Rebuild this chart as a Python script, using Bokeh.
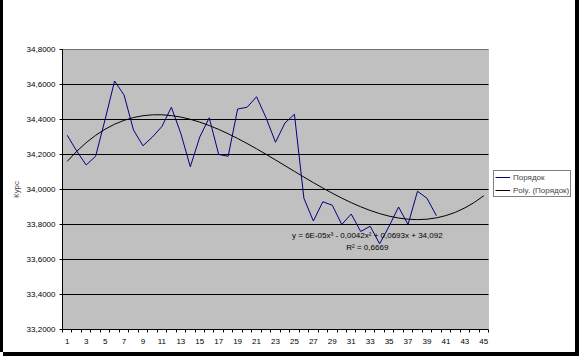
import numpy as np
from bokeh.plotting import figure
from bokeh.models import (FixedTicker, Legend, LegendItem, Label, ColumnDataSource,
                          Range1d, BoxAnnotation)
from bokeh.embed import file_html
from bokeh.resources import INLINE

# ---- data ----
periods = list(range(1, 41))
rate = [34.31, 34.22, 34.14, 34.19, 34.40, 34.62, 34.54, 34.34, 34.25, 34.30,
        34.36, 34.47, 34.32, 34.13, 34.30, 34.41, 34.20, 34.19, 34.46, 34.47,
        34.53, 34.41, 34.27, 34.38, 34.43, 33.95, 33.82, 33.93, 33.91, 33.80,
        33.86, 33.76, 33.79, 33.69, 33.79, 33.90, 33.80, 33.99, 33.95, 33.85]
trend_periods = list(range(1, 46))
y_ticks = [33.2, 33.4, 33.6, 33.8, 34.0, 34.2, 34.4, 34.6, 34.8]
y_tick_labels = ["33,2000", "33,4000", "33,6000", "33,8000", "34,0000",
                 "34,2000", "34,4000", "34,6000", "34,8000"]
x_ticks = list(range(1, 46, 2))
x_tick_labels = [str(t) for t in x_ticks]
series_name = "Порядок"
trend_name = "Poly. (Порядок)"
equation_text = "y = 6E-05x³ - 0,0042x² + 0,0693x + 34,092"
r2_text = "R² = 0,6669"
y_title = "Курс"

# polynomial (order 3) trendline fitted to the series, as the spreadsheet does
coef = np.polyfit(periods, rate, 3)
trend = [float(v) for v in np.polyval(coef, trend_periods)]

FONT = "Liberation Sans"

# plot area spans categories 0.5..45.5; frame extends right to host the legend
X0, X1 = 0.5, 45.5
Y0, Y1 = 33.2, 34.8
AREA_W = 426.0
CANVAS_W, CANVAS_H = 572, 352
LEFT, TOP, BOTTOM = 59, 49, 23
frame_w = CANVAS_W - LEFT
x_end = X0 + frame_w * (X1 - X0) / AREA_W

p = figure(width=CANVAS_W, height=CANVAS_H, output_backend="svg", toolbar_location=None,
           x_range=Range1d(X0, x_end), y_range=Range1d(Y0, Y1),
           min_border_left=LEFT, min_border_right=0, min_border_top=TOP,
           min_border_bottom=BOTTOM)
p.styles = {"margin-left": "3px",
            "box-shadow": "-3px 0 0 0 black, 4px 0 0 0 black, 0 4px 0 0 black, 4px 4px 0 0 black"}
p.background_fill_color = "white"
p.border_fill_color = "white"
p.outline_line_color = None

# grey plot area
p.add_layout(BoxAnnotation(left=X0, right=X1, bottom=Y0, top=Y1,
                           fill_color="#C0C0C0", fill_alpha=1,
                           line_color="#808080", line_width=1, level="underlay"))

# horizontal gridlines from the tick values
p.segment(x0=[X0] * len(y_ticks), x1=[X1] * len(y_ticks), y0=y_ticks, y1=y_ticks,
          line_color="black", line_width=1)

src = ColumnDataSource(dict(x=periods, y=rate))
tsrc = ColumnDataSource(dict(x=trend_periods, y=trend))
r1 = p.line("x", "y", source=src, line_color="#000080", line_width=1)
r2 = p.line("x", "y", source=tsrc, line_color="black", line_width=1)

# x axis
xa = p.xaxis[0]
xa.bounds = (X0, X1)
xa.ticker = FixedTicker(ticks=x_ticks, minor_ticks=[t + 0.5 for t in range(0, 46)])
xa.major_label_overrides = {t: l for t, l in zip(x_ticks, x_tick_labels)}
xa.major_tick_line_color = None
xa.major_tick_out = 0
xa.major_tick_in = 0
xa.minor_tick_line_color = "black"
xa.minor_tick_out = 3
xa.minor_tick_in = 0
xa.axis_line_color = "black"
xa.major_label_standoff = 6
xa.major_label_text_font = FONT
xa.major_label_text_font_size = "8px"
xa.major_label_text_color = "black"

# y axis
ya = p.yaxis[0]
ya.ticker = FixedTicker(ticks=y_ticks)
ya.major_label_overrides = {t: l for t, l in zip(y_ticks, y_tick_labels)}
ya.major_tick_out = 3
ya.major_tick_in = 0
ya.major_tick_line_color = "black"
ya.minor_tick_line_color = None
ya.axis_line_color = "black"
ya.major_label_standoff = 4
ya.major_label_text_font = FONT
ya.major_label_text_font_size = "8px"
ya.major_label_text_color = "black"
ya.axis_label = y_title
ya.axis_label_text_font = FONT
ya.axis_label_text_font_size = "8px"
ya.axis_label_text_font_style = "normal"
ya.axis_label_standoff = 3

p.xgrid.grid_line_color = None
p.ygrid.grid_line_color = None

# equation labels
p.add_layout(Label(x=32.7, y=33.737, text=equation_text, text_align="center",
                   text_baseline="middle", text_font=FONT, text_font_size="8px",
                   text_color="black"))
p.add_layout(Label(x=32.7, y=33.669, text=r2_text, text_align="center",
                   text_baseline="middle", text_font=FONT, text_font_size="8px",
                   text_color="black"))

legend = Legend(items=[LegendItem(label=series_name, renderers=[r1]),
                       LegendItem(label=trend_name, renderers=[r2])],
                location=(431, 132), orientation="vertical",
                border_line_color="black", border_line_width=1,
                background_fill_color="white", background_fill_alpha=1,
                padding=1, spacing=3, margin=0,
                label_text_font=FONT, label_text_font_size="8px",
                label_height=10, glyph_height=10, glyph_width=15,
                label_standoff=3)
p.add_layout(legend, "center")

open("out.html", "w").write(file_html(p, INLINE))
